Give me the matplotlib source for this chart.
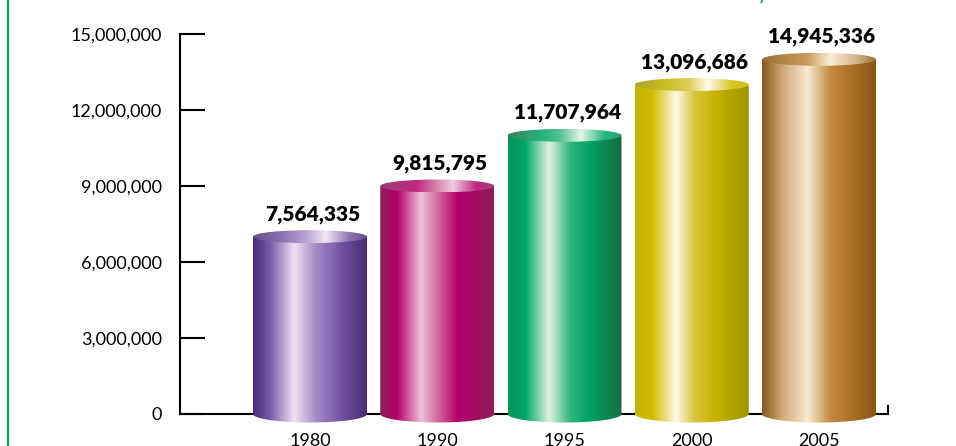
import numpy as np
import matplotlib
matplotlib.use("Agg")
import matplotlib.pyplot as plt
from matplotlib.colors import to_rgb
from matplotlib.patches import Polygon, Ellipse
from matplotlib.lines import Line2D

plt.rcParams['font.family'] = ['Lato', 'DejaVu Sans']

# data
years = ['1980', '1990', '1995', '2000', '2005']
values = [7564335, 9815795, 11707964, 13096686, 14945336]
# drawn cylinder heights (the artwork does not follow the labels exactly)
bar_heights = [7.0e6, 9.0e6, 11.0e6, 13.0e6, 14.0e6]
yticks = [0, 3e6, 6e6, 9e6, 12e6, 15e6]

# colour stops for each cylinder, left to right
stops = [
    [(0, '#4a2a76'), (0.15, '#7a5aa6'), (0.36, '#efe2f2'), (0.55, '#a58cc8'), (0.8, '#6e4c9c'), (1, '#4b2c72')],
    [(0, '#8f1f5a'), (0.15, '#b4006c'), (0.36, '#f0c2d8'), (0.55, '#c8508e'), (0.68, '#b6006c'), (1, '#8c1d56')],
    [(0, '#00935a'), (0.15, '#00a86a'), (0.36, '#e2f2e2'), (0.55, '#30b47c'), (0.7, '#00a468'), (1, '#1a6c40')],
    [(0, '#c4b400'), (0.15, '#d0bc00'), (0.36, '#fffbe6'), (0.52, '#d8c640'), (0.7, '#c8b400'), (1, '#9c9600')],
    [(0, '#87561a'), (0.18, '#d0aa78'), (0.4, '#f8ead2'), (0.6, '#c48a40'), (0.75, '#b0762a'), (1, '#865618')],
]


def gradient(st, mirror=False, lighten=0.0):
    pos = [s[0] for s in st]
    cols = np.array([to_rgb(s[1]) for s in st])
    t = np.linspace(0, 1, 300)
    img = np.stack([np.interp(t, pos, cols[:, k]) for k in range(3)], axis=-1)
    if mirror:
        img = img[::-1]
    img = img + (1 - img) * lighten
    return img[None, :, :]


fig = plt.figure(figsize=(9.56, 4.46), dpi=100)
ax = fig.add_axes([180 / 956, 0, 708 / 956, 412 / 446])

px = 15e6 / 380  # data units per pixel in y
ylo = -32 * px
xlo = (180 - 310) / 127.25
xhi = (888 - 310) / 127.25
w = 114 / 127.25
cap_e = 6.5 * px
base_e = 8.5 * px

xs = np.arange(len(years))
th = np.linspace(np.pi, 2 * np.pi, 60)
for i, (xc, h) in enumerate(zip(xs, bar_heights)):
    x0, x1 = xc - w / 2, xc + w / 2
    pts = [(x0, h)] + [(xc + w / 2 * np.cos(a), base_e * np.sin(a)) for a in th] + [(x1, h)]
    body = Polygon(pts, closed=True, transform=ax.transData)
    im = ax.imshow(gradient(stops[i]), extent=[x0, x1, -base_e, h], aspect='auto',
                   interpolation='bilinear', zorder=3)
    im.set_clip_path(body)
    cap = Ellipse((xc, h), w, 2 * cap_e, transform=ax.transData)
    im2 = ax.imshow(gradient(stops[i], mirror=True, lighten=0.15), extent=[x0, x1, h - cap_e, h + cap_e],
                    aspect='auto', interpolation='bilinear', zorder=4)
    im2.set_clip_path(cap)
    ax.annotate(f'{values[i]:,}', (xc, h), xytext=(2, 22.5 * 0.72), textcoords='offset points',
                ha='center', va='center', fontsize=15, fontweight='heavy', zorder=5)

ax.set_xlim(xlo, xhi)
ax.set_ylim(ylo, 15e6)

for s in ['top', 'right']:
    ax.spines[s].set_visible(False)
ax.spines['bottom'].set_position(('data', 0))
ax.spines['left'].set_bounds(0, 15e6)
for s in ['left', 'bottom']:
    ax.spines[s].set_linewidth(1.5)
    ax.spines[s].set_zorder(2)

ax.set_yticks(yticks)
ax.set_yticklabels([f'{int(v):,}' for v in yticks], fontsize=13)
ax.tick_params(axis='y', direction='in', length=18, width=1.5, pad=13)
ax.set_xticks(xs)
ax.set_xticklabels(years, fontsize=13)
ax.tick_params(axis='x', length=0, pad=13.5)

# small upward tick at the right end of the x axis
ax.plot([xhi, xhi], [0, 8 * px], color='black', lw=1.5, clip_on=False, zorder=2)

# green frame line on the left and clipped title remnant
fig.add_artist(Line2D([8 / 956, 8 / 956], [0, 1], color='#10985a', lw=1.6))
fig.text(762 / 956, 1 - 1 / 446, ')', color='#10985a', fontsize=12, fontweight='bold',
         ha='center', va='baseline')

fig.savefig('out.png', dpi=100)
